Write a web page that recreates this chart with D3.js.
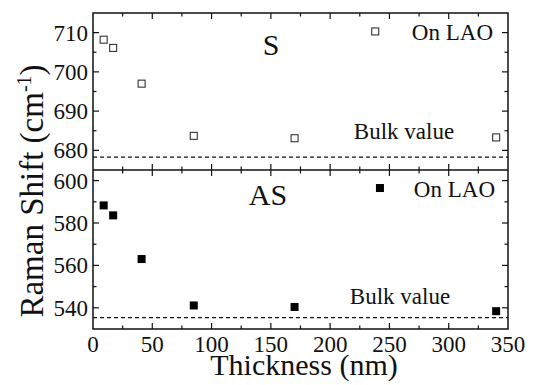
<!DOCTYPE html>
<html>
<head>
<meta charset="utf-8">
<script src="https://cdn.jsdelivr.net/npm/d3@7"></script>
<style>
  html, body { margin: 0; padding: 0; background: #fff; }
</style>
</head>
<body>
<div id="chart"></div>
<script>
// Thickness (nm) for each film
const thickness = [9, 17, 41, 85, 170, 340];
// Symmetric mode (S), cm^-1
const sValues = [708.2, 706.1, 697, 683.7, 683.1, 683.3];
// Antisymmetric mode (AS), cm^-1
const asValues = [588.3, 583.6, 563, 541.1, 540.4, 538.4];
const sBulk = 678.3;
const asBulk = 535.4;
const xTicks = [0, 50, 100, 150, 200, 250, 300, 350];
const sTicks = [680, 690, 700, 710];
const asTicks = [540, 560, 580, 600];

const W = 534, H = 385;
const mLeft = 93, mRight = 508, mTop = 13, mMid = 170, mBottom = 329;
const FONT = '"Liberation Serif", "Times New Roman", "DejaVu Serif", serif';

const svg = d3.select('#chart').append('svg')
  .attr('width', W).attr('height', H)
  .attr('font-family', FONT)
  .style('font-family', FONT);

const x = d3.scaleLinear().domain([0, 350]).range([mLeft, mRight]);
const yS = d3.scaleLinear().domain([675, 715]).range([mMid, mTop]);
const yA = d3.scaleLinear().domain([530, 605]).range([mBottom, mMid]);

const black = '#111';

function txt(g) {
  return g.append('text').style('font-family', FONT).attr('fill', black);
}

// frame
svg.append('rect')
  .attr('x', mLeft).attr('y', mTop)
  .attr('width', mRight - mLeft).attr('height', mBottom - mTop)
  .attr('fill', 'none').attr('stroke', black).attr('stroke-width', 1.5);
svg.append('line')
  .attr('x1', mLeft).attr('x2', mRight).attr('y1', mMid).attr('y2', mMid)
  .attr('stroke', black).attr('stroke-width', 1.5);

// x ticks (major every 50, minor every 25) on top, middle, bottom
const xMinor = d3.range(25, 350, 50);
function xTickMarks(y0, dirs) {
  dirs.forEach(dir => {
    svg.append('g').selectAll('line').data(xTicks.slice(1, -1)).enter().append('line')
      .attr('x1', d => x(d)).attr('x2', d => x(d))
      .attr('y1', y0).attr('y2', y0 + dir * 6)
      .attr('stroke', black).attr('stroke-width', 1.2);
    svg.append('g').selectAll('line').data(xMinor).enter().append('line')
      .attr('x1', d => x(d)).attr('x2', d => x(d))
      .attr('y1', y0).attr('y2', y0 + dir * 3.5)
      .attr('stroke', black).attr('stroke-width', 1.2);
  });
}
xTickMarks(mTop, [1]);
xTickMarks(mMid, [1, -1]);
xTickMarks(mBottom, [-1]);

// y ticks
function yTickMarks(scale, major, minor) {
  [[mLeft, 1], [mRight, -1]].forEach(([x0, dir]) => {
    svg.append('g').selectAll('line').data(major).enter().append('line')
      .attr('x1', x0).attr('x2', x0 + dir * 6)
      .attr('y1', d => scale(d)).attr('y2', d => scale(d))
      .attr('stroke', black).attr('stroke-width', 1.2);
    svg.append('g').selectAll('line').data(minor).enter().append('line')
      .attr('x1', x0).attr('x2', x0 + dir * 3.5)
      .attr('y1', d => scale(d)).attr('y2', d => scale(d))
      .attr('stroke', black).attr('stroke-width', 1.2);
  });
}
yTickMarks(yS, sTicks, [685, 695, 705]);
yTickMarks(yA, asTicks, [550, 570, 590]);

// tick labels
svg.append('g').selectAll('text').data(xTicks).enter().append('text')
  .style('font-family', FONT).attr('fill', black)
  .attr('x', d => x(d)).attr('y', mBottom + 23)
  .attr('text-anchor', 'middle').attr('font-size', 23)
  .text(d => d);
svg.append('g').selectAll('text').data(sTicks).enter().append('text')
  .style('font-family', FONT).attr('fill', black)
  .attr('x', mLeft - 5).attr('y', d => yS(d) + 8)
  .attr('text-anchor', 'end').attr('font-size', 23)
  .text(d => d);
svg.append('g').selectAll('text').data(asTicks).enter().append('text')
  .style('font-family', FONT).attr('fill', black)
  .attr('x', mLeft - 5).attr('y', d => yA(d) + 8)
  .attr('text-anchor', 'end').attr('font-size', 23)
  .text(d => d);

// bulk lines
[[yS, sBulk], [yA, asBulk]].forEach(([s, v]) => {
  svg.append('line')
    .attr('x1', mLeft).attr('x2', mRight).attr('y1', s(v)).attr('y2', s(v))
    .attr('stroke', black).attr('stroke-width', 1.2).attr('stroke-dasharray', '4,3');
});

// points
const sz = 7;
svg.append('g').selectAll('rect').data(thickness).enter().append('rect')
  .attr('x', (d) => x(d) - sz / 2).attr('y', (d, i) => yS(sValues[i]) - sz / 2)
  .attr('width', sz).attr('height', sz)
  .attr('fill', 'none').attr('stroke', '#333').attr('stroke-width', 1.1);
svg.append('g').selectAll('rect').data(thickness).enter().append('rect')
  .attr('x', (d) => x(d) - 4).attr('y', (d, i) => yA(asValues[i]) - 4)
  .attr('width', 8).attr('height', 8)
  .attr('fill', '#000');

// legend markers
svg.append('rect').attr('x', x(238) - sz / 2).attr('y', yS(710.3) - sz / 2)
  .attr('width', sz).attr('height', sz)
  .attr('fill', 'none').attr('stroke', '#333').attr('stroke-width', 1.1);
svg.append('rect').attr('x', x(242) - 4).attr('y', yA(596.5) - 4)
  .attr('width', 8).attr('height', 8).attr('fill', '#000');

txt(svg).attr('x', 493).attr('y', 40)
  .attr('text-anchor', 'end').attr('font-size', 23).text('On LAO');
txt(svg).attr('x', 495).attr('y', 197)
  .attr('text-anchor', 'end').attr('font-size', 23).text('On LAO');
txt(svg).attr('x', 404).attr('y', 139)
  .attr('text-anchor', 'middle').attr('font-size', 23).text('Bulk value');
txt(svg).attr('x', 400).attr('y', 304)
  .attr('text-anchor', 'middle').attr('font-size', 23).text('Bulk value');

txt(svg).attr('x', 271).attr('y', 55)
  .attr('text-anchor', 'middle').attr('font-size', 30).text('S');
txt(svg).attr('x', 268).attr('y', 205)
  .attr('text-anchor', 'middle').attr('font-size', 30).text('AS');

// axis titles
txt(svg).attr('x', 304).attr('y', 375)
  .attr('text-anchor', 'middle').attr('font-size', 30).text('Thickness (nm)');

const yl = txt(svg)
  .attr('transform', `translate(43,191) rotate(-90)`)
  .attr('text-anchor', 'middle').attr('font-size', 33);
yl.append('tspan').text('Raman Shift (cm');
yl.append('tspan').attr('dy', -12).attr('font-size', 20).text('-1');
yl.append('tspan').attr('dy', 12).text(')');
</script>
</body>
</html>
